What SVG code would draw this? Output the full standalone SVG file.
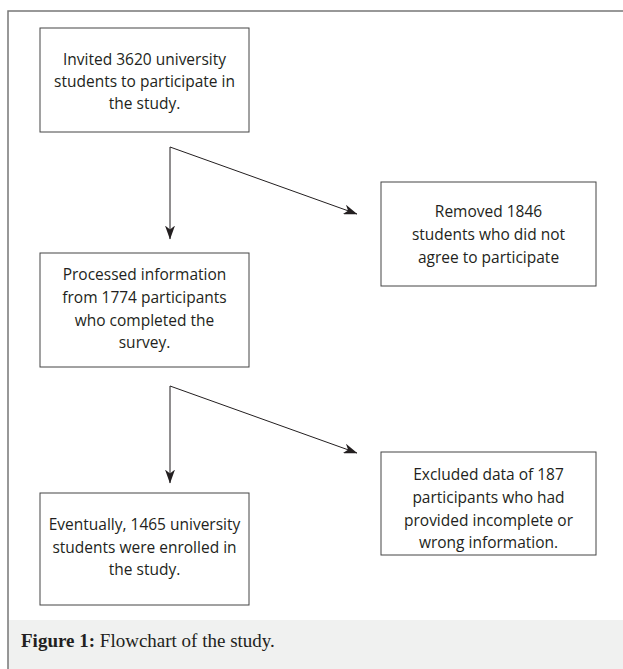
<svg xmlns="http://www.w3.org/2000/svg" width="623" height="669" viewBox="0 0 623 669">
<defs>
<style>
.box{fill:#fff;stroke:#444;stroke-width:1}
.t{font-family:"Open Sans","Noto Sans",sans-serif;font-size:15.5px;fill:#231f20;text-anchor:middle}
.cn{fill:none;stroke:#231f20;stroke-width:1}
.cap{font-family:"Liberation Serif",serif;font-size:19px;fill:#231f20}
</style>
<marker id="ah" viewBox="0 0 14 10" refX="13.5" refY="5" markerWidth="14" markerHeight="10" markerUnits="userSpaceOnUse" orient="auto">
<path d="M0,0 L14,5 L0,10 L4,5 Z" fill="#231f20"/>
</marker>
</defs>
<rect x="0" y="0" width="623" height="669" fill="#fff"/>
<rect x="8" y="620" width="615" height="49" fill="#f0f1f0"/>
<path d="M8,669 V11 H623" fill="none" stroke="#777" stroke-width="1.5"/>
<g id="n1"><rect class="box" x="40" y="28" width="209" height="104"/>
<text class="t" x="144.5" y="65">Invited 3620 university</text>
<text class="t" x="144.5" y="87">students to participate in</text>
<text class="t" x="144.5" y="109">the study.</text></g>
<g id="n2"><rect class="box" x="381" y="182" width="215" height="104"/>
<text class="t" x="488.5" y="217">Removed 1846</text>
<text class="t" x="488.5" y="240">students who did not</text>
<text class="t" x="488.5" y="263">agree to participate</text></g>
<g id="n3"><rect class="box" x="40" y="253" width="209" height="114"/>
<text class="t" x="144.5" y="280">Processed information</text>
<text class="t" x="144.5" y="303">from 1774 participants</text>
<text class="t" x="144.5" y="326">who completed the</text>
<text class="t" x="144.5" y="348">survey.</text></g>
<g id="n4"><rect class="box" x="381" y="452" width="215" height="103"/>
<text class="t" x="488.5" y="480">Excluded data of 187</text>
<text class="t" x="488.5" y="503">participants who had</text>
<text class="t" x="488.5" y="526">provided incomplete or</text>
<text class="t" x="488.5" y="548">wrong information.</text></g>
<g id="n5"><rect class="box" x="40" y="493" width="209" height="112"/>
<text class="t" x="144.5" y="530">Eventually, 1465 university</text>
<text class="t" x="144.5" y="553">students were enrolled in</text>
<text class="t" x="144.5" y="575">the study.</text></g>
<g id="connectors">
<path class="cn" d="M170,147 V239" marker-end="url(#ah)"/>
<path class="cn" d="M170,147 L357,214" marker-end="url(#ah)"/>
<path class="cn" d="M170,386 V483" marker-end="url(#ah)"/>
<path class="cn" d="M170,386 L357,453" marker-end="url(#ah)"/>
</g>
<text class="cap" x="21" y="647"><tspan font-weight="bold">Figure 1:</tspan> Flowchart of the study.</text>
</svg>
